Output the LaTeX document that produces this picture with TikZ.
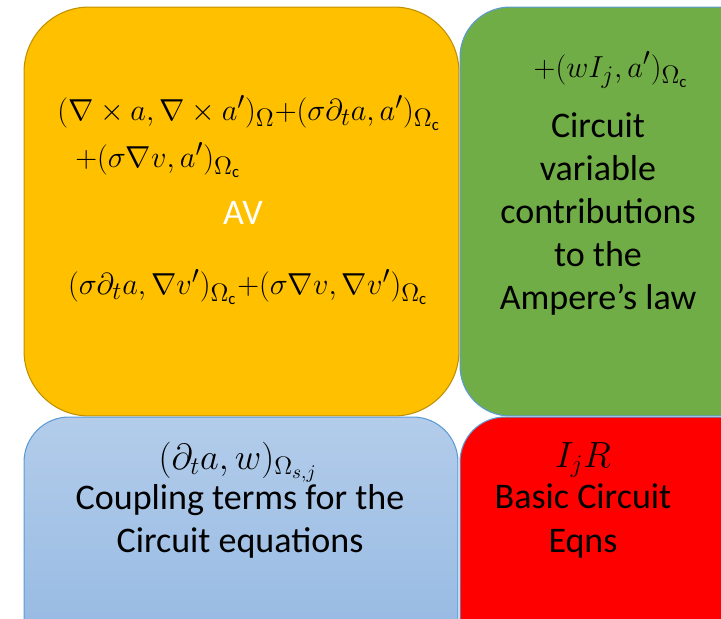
\documentclass[tikz,border=0pt]{standalone}
\usepackage{amsmath}
\usepackage{fontspec}
\setmainfont{Carlito}
\usetikzlibrary{positioning}

\definecolor{avorange}{HTML}{FFC000}
\definecolor{avborder}{HTML}{BF9000}
\definecolor{circgreen}{HTML}{70AD47}
\definecolor{boxline}{HTML}{5B9BD5}
\definecolor{couptop}{HTML}{B3CCEA}
\definecolor{coupbot}{HTML}{93B8E2}

\begin{document}
\begin{tikzpicture}[x=0.02cm, y=-0.02cm,
    block/.style={rounded corners=0.9cm, line width=0.6pt},
    txt/.style={align=center, font=\fontsize{20.5}{24.5}\selectfont, inner sep=0pt},
    eqn/.style={font=\fontsize{19}{24.5}\selectfont, inner sep=0pt}]
    \useasboundingbox (0,0) rectangle (721,619);
    \clip (0,0) rectangle (721,619);

    % Blocks
    \node[block, draw=avborder, fill=avorange, rounded corners=1.3cm,
          minimum width=8.7cm, minimum height=8.18cm] (av) at (241.5,211.5) {};
    \node[block, draw=boxline, fill=circgreen, rounded corners=1cm,
          minimum width=6.4cm, minimum height=8.18cm] (amp) at (620,211.5) {};
    \node[block, draw=boxline, top color=couptop, bottom color=coupbot,
          minimum width=8.68cm, minimum height=5cm] (coup) at (241,542) {};
    \node[block, draw=boxline, fill=red,
          minimum width=6.4cm, minimum height=5cm] (eqns) at (620,542) {};

    % AV terms
    \node[eqn] (avone) at (249,113)
        {$(\nabla\times a,\nabla\times a')_{\Omega}{+}(\sigma\partial_t a,a')_{\Omega_{\mathrm{c}}}$};
    \node[eqn, anchor=west] (avtwo) at (75,160)
        {$+(\sigma\nabla v,a')_{\Omega_{\mathrm{c}}}$};
    \node[txt, text=white] (avlabel) at (243,213) {AV};
    \node[eqn] (avthree) at (248,287)
        {$(\sigma\partial_t a,\nabla v')_{\Omega_{\mathrm{c}}}{+}(\sigma\nabla v,\nabla v')_{\Omega_{\mathrm{c}}}$};

    % Circuit contributions
    \node[eqn] (ampeqn) at (611,70) {$+(wI_j,a')_{\Omega_{\mathrm{c}}}$};
    \node[txt] (amptext) at (598,214)
        {Circuit\\variable\\contributions\\to the\\Ampere’s law};

    % Coupling terms
    \node[eqn, font=\fontsize{22}{24.5}\selectfont] (coupeqn) at (238,462) {$(\partial_t a,w)_{\Omega_{s,j}}$};
    \node[txt] (couptext) at (240,521) {Coupling terms for the\\Circuit equations};

    % Circuit equations
    \node[eqn, font=\fontsize{20}{24.5}\selectfont] (eqnsterm) at (583,460) {$I_jR$};
    \node[txt] (eqnstext) at (583,521) {Basic Circuit\\Eqns};
\end{tikzpicture}
\end{document}
